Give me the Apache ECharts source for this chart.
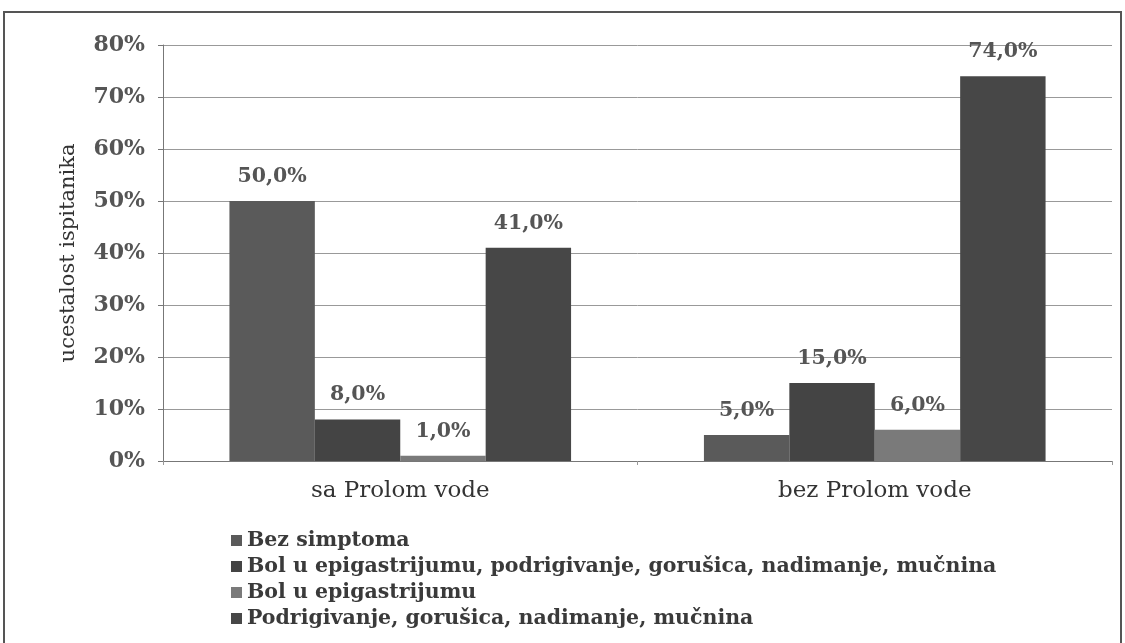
<!DOCTYPE html>
<html>
<head>
<meta charset="utf-8">
<script src="https://cdn.jsdelivr.net/npm/echarts@6/dist/echarts.min.js"></script>
<style>
  html, body { margin: 0; padding: 0; background: #fff; }
  #chart { width: 1125px; height: 643px; }
</style>
</head>
<body>
<div id="chart"></div>
<script>
// podaci
var categories = ['sa Prolom vode', 'bez Prolom vode'];
var seriesNames = [
  'Bez simptoma',
  'Bol u epigastrijumu, podrigivanje, gorušica, nadimanje, mučnina',
  'Bol u epigastrijumu',
  'Podrigivanje, gorušica, nadimanje, mučnina'
];
var bezSimptoma = [50, 5];
var bolIPodrigivanje = [8, 15];
var bolEpigastrijum = [1, 6];
var podrigivanje = [41, 74];
var yTicks = [0, 10, 20, 30, 40, 50, 60, 70, 80];

var seriesColors = ['#5a5a5a', '#444444', '#7a7a7a', '#474747'];
var serif = '"DejaVu Serif", "Liberation Serif", serif';

var myChart = echarts.init(document.getElementById('chart'));

function makeSeries(idx, data) {
  return {
    name: seriesNames[idx],
    type: 'bar',
    data: data,
    barGap: '0%',
    barCategoryGap: '28%',
    itemStyle: { color: seriesColors[idx] },
    label: {
      show: true,
      position: 'top',
      distance: 14,
      color: '#555',
      fontFamily: serif,
      fontWeight: 'bold',
      fontSize: 20.5,
      formatter: function (p) { return p.value.toFixed(1).replace('.', ',') + '%'; }
    }
  };
}

var option = {
  backgroundColor: '#fff',
  animation: false,
  grid: { left: 163, right: 13, top: 45, bottom: 182 },
  legend: {
    orient: 'vertical',
    left: 226,
    top: 525,
    itemGap: 5,
    itemWidth: 11,
    itemHeight: 11,
    icon: 'rect',
    data: seriesNames,
    textStyle: { fontFamily: serif, fontSize: 20.5, fontWeight: 'bold', color: '#3a3a3a' }
  },
  xAxis: {
    type: 'category',
    data: categories,
    axisLine: { lineStyle: { color: '#777', width: 1 } },
    axisTick: { show: true, length: 4, lineStyle: { color: '#999' } },
    axisLabel: { fontFamily: serif, fontSize: 23, color: '#333', margin: 19 }
  },
  yAxis: {
    type: 'value',
    min: 0,
    max: 80,
    interval: 10,
    name: 'ucestalost ispitanika',
    nameLocation: 'middle',
    nameGap: 84,
    nameTextStyle: { fontFamily: serif, fontSize: 21, color: '#333' },
    axisLine: { show: true, lineStyle: { color: '#777', width: 1 } },
    axisTick: { show: true, length: 5, lineStyle: { color: '#777' } },
    axisLabel: {
      fontFamily: serif,
      fontWeight: 'bold',
      fontSize: 22,
      color: '#555',
      margin: 18,
      formatter: function (v) { return yTicks.indexOf(v) >= 0 ? v + '%' : ''; }
    },
    splitLine: { lineStyle: { color: '#999', width: 1 } }
  },
  graphic: [
    {
      type: 'rect',
      shape: { x: 4, y: 12, width: 1117, height: 660 },
      style: { fill: 'none', stroke: '#555', lineWidth: 2 },
      silent: true
    }
  ],
  series: [
    makeSeries(0, bezSimptoma),
    makeSeries(1, bolIPodrigivanje),
    makeSeries(2, bolEpigastrijum),
    makeSeries(3, podrigivanje)
  ]
};

myChart.setOption(option);
</script>
</body>
</html>
